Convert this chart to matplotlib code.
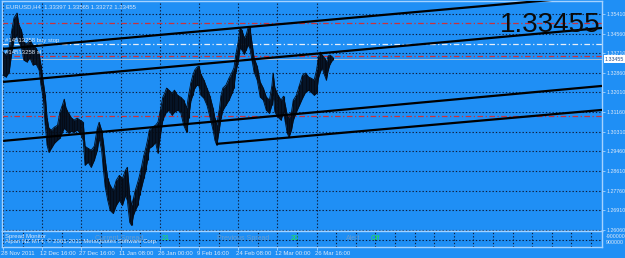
import matplotlib.pyplot as plt
from matplotlib.transforms import ScaledTranslation

# ---- data ----
# bar index (H4 bars from 28 Nov 2011) with high / low of the price band
bars = [0, 5, 10, 15, 18, 23, 26, 30, 34, 39, 44, 49, 54, 59, 62, 66, 69, 72, 75, 79,
        84, 89, 93, 97, 100, 103, 107, 112, 116, 121, 126, 131, 134, 139, 144, 149, 154, 157, 161, 164,
        167, 171, 175, 180, 185, 190, 195, 200, 203, 207, 210, 213, 216, 220, 223, 226, 230, 233, 236, 239,
        244, 249, 253, 257, 261, 264, 267, 271, 276, 280, 285, 290, 295, 300, 303, 307, 310, 313, 317, 320,
        323, 328, 333, 338, 343, 346, 349, 353, 356, 359, 364, 369, 374, 377, 380, 384, 387, 390, 394, 397,
        400, 403, 407, 410, 415, 420, 425, 430, 435, 439, 441, 444, 449, 454, 458, 461, 464, 467, 471, 474,
        479, 484, 489, 494, 499, 503, 508, 512, 515, 518, 521, 525, 528, 531, 534, 538]
highs = [1.3376, 1.3363, 1.3393, 1.3480, 1.3524, 1.3545, 1.3493, 1.3472, 1.3419, 1.3411, 1.3428, 1.3406, 1.3393, 1.3367, 1.3320, 1.3242, 1.3189, 1.3090, 1.3046, 1.3038,
         1.3051, 1.3059, 1.3116, 1.3146, 1.3172, 1.3133, 1.3111, 1.3090, 1.3081, 1.3090, 1.3081, 1.3072, 1.2968, 1.2959, 1.2951, 1.2968, 1.3046, 1.3072, 1.3038, 1.2985,
         1.2907, 1.2829, 1.2799, 1.2777, 1.2821, 1.2842, 1.2829, 1.2864, 1.2877, 1.2755, 1.2712, 1.2742, 1.2777, 1.2812, 1.2842, 1.2877, 1.2929, 1.2959, 1.2994, 1.3038,
         1.3051, 1.3059, 1.3072, 1.3124, 1.3181, 1.3198, 1.3220, 1.3211, 1.3198, 1.3211, 1.3189, 1.3181, 1.3168, 1.3133, 1.3189, 1.3246, 1.3276, 1.3298, 1.3311, 1.3315,
         1.3281, 1.3255, 1.3220, 1.3185, 1.3133, 1.3090, 1.3059, 1.3124, 1.3189, 1.3220, 1.3233, 1.3263, 1.3289, 1.3307, 1.3363, 1.3419, 1.3480, 1.3472, 1.3437, 1.3450,
         1.3480, 1.3485, 1.3406, 1.3350, 1.3315, 1.3246, 1.3220, 1.3181, 1.3168, 1.3229, 1.3285, 1.3220, 1.3189, 1.3168, 1.3185, 1.3146, 1.3103, 1.3090, 1.3116, 1.3168,
         1.3189, 1.3233, 1.3276, 1.3285, 1.3268, 1.3263, 1.3255, 1.3298, 1.3354, 1.3376, 1.3363, 1.3350, 1.3333, 1.3359, 1.3363, 1.3354]
lows = [1.3276, 1.3268, 1.3289, 1.3385, 1.3428, 1.3450, 1.3419, 1.3398, 1.3341, 1.3333, 1.3350, 1.3320, 1.3324, 1.3298, 1.3233, 1.3168, 1.3059, 1.2972, 1.2942, 1.2959,
        1.2981, 1.2994, 1.3003, 1.3029, 1.3046, 1.3038, 1.3025, 1.3033, 1.3029, 1.3038, 1.3025, 1.2994, 1.2886, 1.2899, 1.2877, 1.2907, 1.2951, 1.3003, 1.2951, 1.2864,
        1.2790, 1.2734, 1.2690, 1.2677, 1.2712, 1.2734, 1.2712, 1.2755, 1.2734, 1.2638, 1.2625, 1.2669, 1.2690, 1.2712, 1.2755, 1.2786, 1.2829, 1.2864, 1.2907, 1.2959,
        1.2968, 1.2985, 1.2938, 1.3016, 1.3081, 1.3103, 1.3116, 1.3124, 1.3103, 1.3116, 1.3124, 1.3116, 1.3059, 1.3029, 1.3090, 1.3168, 1.3189, 1.3220, 1.3233, 1.3229,
        1.3189, 1.3176, 1.3146, 1.3094, 1.3038, 1.2994, 1.2972, 1.3038, 1.3090, 1.3124, 1.3146, 1.3168, 1.3198, 1.3220, 1.3289, 1.3333, 1.3393, 1.3385, 1.3367, 1.3385,
        1.3406, 1.3393, 1.3333, 1.3289, 1.3255, 1.3181, 1.3168, 1.3124, 1.3111, 1.3146, 1.3189, 1.3116, 1.3094, 1.3081, 1.3116, 1.3072, 1.3025, 1.3007, 1.3038, 1.3081,
        1.3116, 1.3146, 1.3176, 1.3202, 1.3211, 1.3202, 1.3189, 1.3198, 1.3263, 1.3289, 1.3307, 1.3276, 1.3255, 1.3298, 1.3324, 1.3341]

# channel trend lines: start bar/price -> end bar/price
ch_x0 = [0, 0, 0, 348]
ch_y0 = [1.33895, 1.32466, 1.29911, 1.29781]
ch_x1 = [978, 978, 978, 978]
ch_y1 = [1.36212, 1.34804, 1.32292, 1.31253]

red_levels = [1.3502, 1.3359, 1.3098]
stop_level = 1.3411
bid = 1.33455

price_ticks = [1.26060, 1.26910, 1.27760, 1.28610, 1.29460, 1.30310,
               1.31160, 1.32010, 1.32860, 1.33710, 1.34560, 1.35410]
grid_bars = list(range(32, 978, 32))
label_bars = [0, 64, 128, 192, 256, 320, 384, 448, 512]
date_labels = ['28 Nov 2011', '12 Dec 16:00', '27 Dec 16:00', '11 Jan 08:00', '26 Jan 00:00',
               '9 Feb 16:00', '24 Feb 08:00', '12 Mar 00:00', '26 Mar 16:00']

BG = '#1f8ff5'
LIGHT = '#dbe8f8'
FRAME = '#a4d2ff'
GRID = '#0d1e3c'
INK = '#050b16'
RED = '#c8323c'
FONT = ['Liberation Sans', 'DejaVu Sans']

W, H = 625, 258


def rect(x0, y0, x1, y1):
    return [x0 / W, 1 - y1 / H, (x1 - x0) / W, (y1 - y0) / H]


plt.rcParams['font.family'] = FONT
fig = plt.figure(figsize=(W / 100, H / 100), dpi=100)
fig.patch.set_facecolor(BG)

ax = fig.add_axes(rect(2, 1, 602, 231))
sub = fig.add_axes(rect(2, 231, 602, 247), sharex=ax)
for a in (ax, sub):
    a.set_facecolor(BG)
    for s in a.spines.values():
        s.set_color(FRAME)
        s.set_linewidth(1.0)

ax.set_xlim(-1.6, 978)
ax.set_ylim(1.2601, 1.3597)

# grid
ax.set_yticks(price_ticks, labels=['%.5f' % v for v in price_ticks])
ax.yaxis.tick_right()
ax.tick_params(axis='y', labelsize=3.8, colors=FRAME, labelcolor=LIGHT, length=2, pad=1.2, width=0.6)
ax.set_xticks(grid_bars)
ax.tick_params(axis='x', length=0, labelbottom=False)
ax.grid(True, color=GRID, linestyle=(0, (1.2, 1.8)), linewidth=0.8)

# price band
ax.fill_between(bars, lows, highs, color=INK, lw=0, alpha=0.92, zorder=3)
ax.vlines(bars, lows, highs, color=INK, lw=0.8, zorder=3)
ax.plot(bars, highs, color=INK, lw=0.6, zorder=3)
ax.plot(bars, lows, color=INK, lw=0.6, zorder=3)

# levels
for lv in red_levels:
    ax.axhline(lv, color=RED, lw=0.9, linestyle=(0, (4.5, 2, 1, 2)), zorder=2)
ax.axhline(stop_level, color='#e6eef8', lw=0.9, linestyle=(0, (4.5, 2, 1, 2)), zorder=2)
ax.axhline(bid, color='#b8c4d4', lw=0.6, zorder=2)

# channel lines
for x0, y0, x1, y1 in zip(ch_x0, ch_y0, ch_x1, ch_y1):
    ax.plot([x0, x1], [y0, y1], color='black', lw=1.6, zorder=4, solid_capstyle='butt')

# texts
ax.text(0.006, 0.985, 'EURUSD,H4  1.33397 1.33565 1.33272 1.33455', transform=ax.transAxes,
        fontsize=4.3, color=LIGHT, va='top', ha='left')
ax.text(3, stop_level + 0.0004, '#14513258 buy stop', fontsize=4.3, color=LIGHT, va='bottom', zorder=5)
ax.text(3, red_levels[1] + 0.0004, '#14513258 sl', fontsize=4.3, color=LIGHT, va='bottom', zorder=5)
ax.text(0.997, 0.865, '%.5f' % bid, transform=ax.transAxes, fontsize=20, color='#0a0a0a',
        ha='right', va='baseline', zorder=6)
ax.text(1.005, bid, '%.5f' % bid, transform=ax.get_yaxis_transform(), fontsize=3.8, color='#1f4f8f',
        ha='left', va='center', clip_on=False,
        bbox=dict(boxstyle='square,pad=0.25', fc='white', ec='none'))

# sub window (Spread Monitor)
sub.set_ylim(0, 1)
sub.set_yticks([])
sub.set_xticks(label_bars, labels=date_labels)
sub.set_xticks(grid_bars, minor=True)
sub.tick_params(axis='x', which='major', labelsize=4.3, colors=FRAME, labelcolor=LIGHT, length=2, pad=1, width=0.6)
sub.tick_params(axis='x', which='minor', length=0)
sub.grid(True, which='both', axis='x', color=GRID, linestyle=(0, (1.2, 1.8)), linewidth=0.8)
sub.axhline(0.44, color=GRID, linestyle=(0, (1.2, 1.8)), linewidth=0.8)
shift = ScaledTranslation(-2 / 100, 0, fig.dpi_scale_trans)
for lbl in sub.get_xticklabels():
    lbl.set_ha('left')
    lbl.set_transform(lbl.get_transform() + shift)


def fx(px):
    return (px - 2) / 600


def fy(py):
    return (247 - py) / 16


sub.text(fx(5), fy(236.5), 'Spread Monitor', fontsize=4.3, color=LIGHT, va='center', transform=sub.transAxes)
sub.text(fx(5), fy(241.5), 'Alpari NZ MT4, \u00a9 2001-2011 MetaQuotes Software Corp.', fontsize=4.3,
         color=LIGHT, va='center', transform=sub.transAxes)
muted = '#6a9ccc'
green = '#22e64a'
sub.text(fx(95), fy(238.5), 'Current Spread', fontsize=5, color=muted, va='center', transform=sub.transAxes)
sub.text(fx(162), fy(238.5), '21', fontsize=5, color=green, va='center', transform=sub.transAxes)
sub.text(fx(217), fy(238.5), 'Previous Spread', fontsize=5, color=muted, va='center', transform=sub.transAxes)
sub.text(fx(291), fy(238.5), '20', fontsize=5, color=green, va='center', transform=sub.transAxes)
sub.text(fx(346), fy(238.5), 'Alert', fontsize=5, color=muted, va='center', transform=sub.transAxes)
sub.text(fx(371), fy(238.5), 'Off', fontsize=5, color=green, va='center', transform=sub.transAxes)
sub.text(1.006, fy(236.5), '-900000', fontsize=3.8, color=LIGHT, va='center', transform=sub.transAxes, clip_on=False)
sub.text(1.006, fy(243), '900000', fontsize=3.8, color=LIGHT, va='center', transform=sub.transAxes, clip_on=False)

fig.savefig('out.png', dpi=100, facecolor=BG)
